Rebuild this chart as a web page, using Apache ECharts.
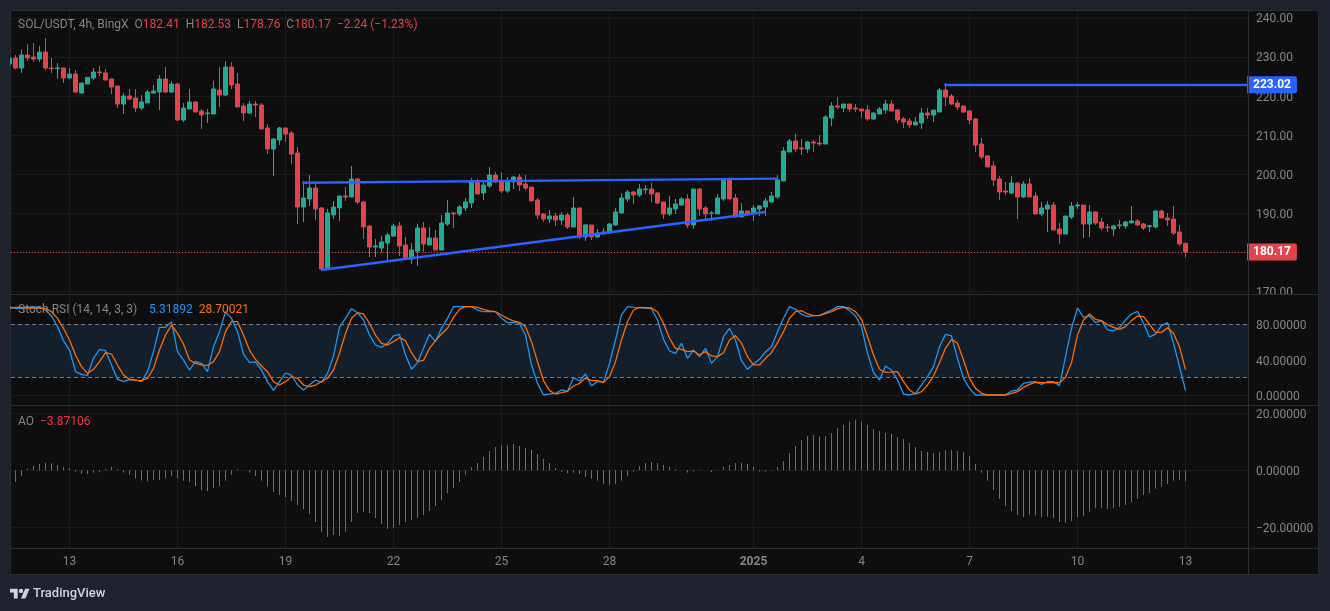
<!DOCTYPE html>
<html>
<head>
<meta charset="utf-8">
<title>SOL/USDT 4h</title>
<script src="https://cdn.jsdelivr.net/npm/echarts@6/dist/echarts.min.js"></script>
<style>
  html, body { margin: 0; padding: 0; background: #1e222d; }
  #chart { width: 1330px; height: 611px; }
</style>
</head>
<body>
<div id="chart"></div>
<script>
// 4h candles, Dec 11 2024 -> Jan 13 2025
const opens = [
  228.32,229.86,227.30,230.63,230.12,229.60,231.39,227.30,227.13,227.30,
  224.74,225.76,220.89,223.20,224.74,226.27,226.02,224.48,222.69,218.08,
  220.13,219.61,217.05,218.33,220.89,221.15,224.48,221.15,223.20,213.98,
  216.80,218.59,216.28,215.60,215.52,221.66,220.38,227.55,223.20,217.56,
  215.77,218.08,217.82,211.93,206.55,208.86,211.93,210.65,205.53,191.70,
  193.75,196.57,191.45,176.08,189.65,191.45,194.52,194.26,198.87,192.98,
  186.83,181.46,181.20,182.48,184.28,186.83,181.97,178.39,180.43,186.32,
  181.97,183.76,180.69,187.35,190.17,189.91,191.45,192.73,198.19,195.29,
  197.08,199.90,198.36,195.80,198.10,199.38,197.59,196.82,193.49,189.91,
  188.63,189.40,188.37,189.65,186.58,191.45,184.02,187.09,184.02,185.04,
  185.04,187.09,190.17,193.75,195.54,194.77,196.14,196.31,195.29,192.98,
  189.91,191.19,192.21,193.75,187.09,196.31,191.45,190.00,189.91,193.75,
  198.62,194.01,189.14,190.68,189.91,191.19,191.70,192.98,194.27,198.36,
  205.79,208.60,206.81,206.56,208.35,208.09,207.84,214.49,217.57,217.05,
  218.08,217.05,216.80,216.54,214.24,215.52,216.54,218.08,216.54,214.24,
  213.73,212.70,213.21,215.77,215.26,216.03,221.66,220.13,218.34,217.57,
  216.29,214.24,207.84,204.76,202.20,198.87,195.80,195.29,197.85,194.27,
  197.59,194.52,189.91,191.19,192.21,186.07,184.79,189.14,191.96,192.21,
  187.35,190.42,187.86,186.58,186.07,186.92,186.84,187.61,188.12,187.35,
  186.67,186.58,190.68,188.89,188.63,185.30,182.41
];
const highs = [
  229.86,230.63,232.08,233.44,233.70,232.93,234.98,229.86,228.57,227.30,
  227.30,226.78,223.45,224.91,227.30,227.81,227.04,224.65,222.69,220.89,
  221.92,221.92,220.38,221.66,222.94,225.50,227.55,223.97,223.45,218.33,
  221.92,218.85,216.80,216.80,223.97,227.55,229.09,228.83,226.02,218.33,
  218.85,218.85,218.33,212.96,209.37,212.19,211.93,211.16,207.06,198.36,
  199.90,197.59,191.70,191.19,193.24,194.52,196.82,202.20,199.13,193.24,
  187.09,183.51,184.28,185.04,187.35,187.86,184.02,182.48,187.35,187.86,
  186.58,185.81,189.65,193.49,190.42,192.21,194.01,199.13,198.87,198.36,
  201.95,200.66,200.66,199.38,199.64,200.15,199.90,196.82,194.01,190.17,
  190.93,190.17,190.42,190.17,194.26,191.45,187.35,187.09,186.07,186.32,
  187.60,191.45,195.29,196.06,195.80,197.59,197.34,197.85,195.54,192.98,
  194.52,193.75,194.26,195.03,196.31,196.57,191.96,190.68,195.03,198.87,
  199.38,195.03,192.73,190.68,192.21,192.21,194.01,195.54,199.90,207.07,
  209.12,210.40,209.12,208.60,208.86,210.14,215.26,218.59,219.87,218.08,
  218.08,218.08,216.80,217.82,216.03,217.31,219.10,219.10,216.80,214.75,
  214.49,214.75,217.05,217.05,216.54,222.18,223.46,220.64,219.10,217.57,
  216.54,214.49,209.37,205.02,203.48,199.64,198.11,199.64,197.85,198.36,
  199.13,195.54,192.98,193.24,192.98,187.61,189.40,192.98,192.98,192.21,
  192.21,190.68,188.89,187.35,187.09,188.37,188.12,191.96,188.63,187.61,
  187.09,190.93,190.93,190.17,191.96,187.09,182.53
];
const lows = [
  228.32,226.96,226.02,229.09,228.83,228.83,226.78,226.02,224.48,223.45,
  224.48,220.89,220.89,223.20,224.22,225.25,224.22,220.64,217.05,215.52,
  219.10,216.03,216.54,218.33,220.64,216.54,220.89,220.89,213.72,213.47,
  216.80,216.03,211.68,213.21,215.52,217.31,220.13,221.92,217.31,213.72,
  215.52,214.75,211.68,205.27,199.64,207.58,208.35,202.71,187.35,187.86,
  191.96,188.37,175.57,175.83,188.63,188.12,193.24,194.26,192.47,183.51,
  178.90,178.90,180.18,178.13,184.02,179.15,178.13,177.11,176.59,180.18,
  181.97,180.69,180.69,186.84,186.32,189.40,190.68,191.45,195.03,193.49,
  196.57,197.85,195.29,195.29,196.31,195.80,196.06,193.24,188.63,187.86,
  187.60,186.84,187.09,186.07,186.58,183.51,183.00,183.25,184.02,184.53,
  185.04,186.84,189.91,192.98,192.47,194.26,195.03,192.98,192.47,188.63,
  189.40,189.91,191.96,186.32,186.07,189.40,188.37,188.12,189.91,193.24,
  193.75,189.14,189.14,189.40,188.12,189.40,189.40,192.98,193.75,198.36,
  205.79,205.79,205.02,205.53,205.79,207.32,207.84,212.45,216.80,216.03,
  216.03,216.03,214.49,213.73,213.98,215.52,215.52,216.29,213.21,211.93,
  211.93,212.70,211.68,214.24,213.47,216.03,217.57,217.82,216.54,215.77,
  212.96,205.79,203.99,201.95,197.08,193.50,194.77,195.03,188.63,194.01,
  194.27,189.91,189.40,185.30,185.81,182.23,184.79,188.63,191.19,183.77,
  184.02,187.09,185.81,185.30,184.28,186.07,186.07,187.61,186.84,185.81,
  185.30,186.33,188.89,186.84,184.53,181.72,178.76
];
const closes = [
  229.86,227.30,230.63,229.86,229.60,231.39,227.30,227.13,227.30,224.74,
  225.76,221.15,223.45,224.91,226.27,226.10,224.22,222.43,218.08,220.13,
  219.36,217.05,218.59,221.15,221.41,224.48,221.15,223.20,213.98,217.05,
  218.59,216.03,215.26,215.77,221.92,220.38,227.55,222.94,217.31,215.77,
  218.08,217.82,211.68,206.55,209.12,211.93,210.39,205.27,191.70,194.01,
  196.57,191.19,175.83,190.17,191.70,194.52,194.26,198.87,192.98,186.58,
  181.46,181.72,182.74,184.53,186.83,181.72,178.39,180.69,186.32,182.23,
  183.76,180.69,187.60,190.17,189.91,191.70,192.98,198.19,195.03,197.34,
  199.90,198.10,195.80,198.36,199.38,197.34,196.57,193.24,189.65,188.63,
  189.40,188.37,189.65,186.58,191.45,184.02,187.09,184.02,185.04,185.30,
  187.35,190.42,194.01,195.54,194.77,196.31,196.31,195.03,192.73,189.91,
  191.45,192.47,193.75,187.09,196.31,191.19,189.91,190.17,194.01,198.62,
  193.75,189.14,190.68,189.91,191.45,191.96,193.24,194.52,198.62,206.04,
  208.60,206.56,206.56,208.35,208.09,207.84,214.75,217.57,217.31,218.08,
  216.80,216.80,216.29,214.24,215.77,216.80,218.08,216.29,213.98,213.47,
  212.70,213.47,215.77,215.26,216.54,221.66,219.87,218.08,217.31,216.03,
  213.98,207.58,204.50,201.95,198.62,195.54,195.54,197.85,194.27,197.59,
  194.27,189.91,191.45,192.21,185.81,184.79,189.40,191.96,192.21,187.35,
  190.42,187.61,186.33,186.41,186.84,187.09,187.86,188.12,187.09,186.33,
  186.92,190.68,188.89,188.37,185.04,182.23,180.17
];

// Stoch RSI
const stochK = [
  100,98.1,98.1,98.9,99.6,99.2,96.2,89.4,77.4,61.5,
  50.9,26.4,23.4,22.3,41.5,51.7,50.2,34,17.7,15.5,
  17.4,17,15.1,26.4,49.1,76.6,76.6,83,49.1,39.6,
  28.3,38.1,35.8,26.4,54.7,71.7,94.3,86.8,71.7,46.4,
  37,37.4,28.3,15.1,5.3,15.1,24.9,22.6,11.3,5.7,
  11.3,17,14.3,24.5,44.2,76.6,86.8,97.7,93.2,84.9,
  67.9,56.6,54,58.5,66.8,68.7,45.3,29.1,36.6,52.8,
  68.7,60.4,75.5,86.8,100,100,100,100,96.2,94.3,
  94.3,94.3,86.8,81.9,82.3,81.1,67.9,34,13.2,0,
  1.1,1.9,5.7,4.2,19.6,15.8,23.8,10.2,15.5,14.3,
  35.8,62.3,90.6,100,99.2,98.9,98.5,97.7,84.9,63,
  49.8,47.2,58.5,41.5,50.9,43.4,52.8,35.8,43.4,66,
  75.5,62.3,38.5,29.1,35.1,40.4,48.7,54.7,71.7,86.8,
  100,97,91.3,88.7,89.8,89.8,93.2,96.2,100,100,
  95.5,89.4,77.4,47.2,25.3,17,32.8,28.3,17,1.1,
  0,1.9,11.3,20.8,32.1,54.7,68.7,66.8,41.5,18.9,
  7.5,0,0,0,0,0,0,4.5,5.7,13.2,
  14.7,15.1,12.1,15.1,15.1,10.6,43.4,75.5,98.5,87.9,
  89.4,81.9,84.2,73.6,72.5,76.2,84.9,91.7,94.7,81.1,
  65.7,68.7,78.5,81.9,58.5,32.1,5.31892
];
const stochD = [
  98.1,99.2,99.2,98.5,98.5,98.5,97.7,94.3,86.8,75.5,
  62.3,45.3,32.1,24.5,29.1,37.7,47.9,46.4,34,22.6,
  17.7,16.6,16.2,18.9,30.2,50.9,67.9,79.2,69.8,57.7,
  39.6,35.8,34,33.6,37.7,49.1,71.7,83,83,67.9,
  50.9,40.4,32.8,26.4,15.1,11.3,15.1,20.8,18.9,11.3,
  9.4,11.3,15.1,18.9,28.3,47.2,69.8,86.8,93.2,91.7,
  81.1,67.9,58.5,56.6,60.4,64.9,61.5,47.9,37.7,39.2,
  52.8,61.5,69.1,75.5,87.9,97,100,100,99.2,97,
  95.1,94.3,90.6,86.8,83.8,82.3,77.4,60.4,37.7,16.2,
  4.9,1.1,2.6,4.2,10.2,13.2,19.2,16.2,16.2,14,
  20.8,37.7,62.3,83,96.2,99.2,98.9,98.5,94,81.1,
  64.2,52.8,51.7,49.1,49.8,45.3,49.1,44.2,43.4,47.9,
  62.3,67.2,58.5,43.4,34,34,41.5,47.9,59.2,71.7,
  86.8,94.3,95.5,91.7,89.8,90.2,92.1,94.3,97.4,99.2,
  98.5,94.3,85.7,66,45.3,29.1,25.7,26,26.4,15.1,
  5.7,1.1,3.8,11.3,21.5,36.6,52.8,63,58.5,39.6,
  18.9,7.5,1.9,0,0,0,0,1.9,3.8,8.7,
  12.1,14.3,14,14,14,14,20,36.6,67.9,84.9,
  91.7,85.7,84.2,79.6,76.6,74.3,77.4,84.2,89.4,88.7,
  80,70.9,70.9,76.2,69.8,54.7,28.70021
];

// Awesome Oscillator
const aoValues = [
  -4.8,-4.1,-2,0.6,1.5,2.2,2.7,2.5,1.9,1.2,
  0.8,-0.5,-1.2,-1.3,-0.9,-0.7,0.5,1.2,0.5,-0.8,
  -1.5,-2.9,-3.6,-3.8,-3.3,-3.4,-2.7,-2,-2.7,-3.7,
  -4.1,-5.5,-6.9,-7.3,-6.2,-5.5,-3.7,-1.6,0.5,-0.1,
  -0.8,-2,-3.7,-5.8,-7.6,-8.7,-9.4,-10.8,-12.2,-13.6,
  -15.3,-18.1,-21.6,-23.4,-22.7,-23,-21.6,-18.1,-15,-14.6,
  -15,-16.7,-18.8,-20.6,-20.2,-19.2,-18.1,-17.4,-16.7,-15.7,
  -14.3,-12.5,-10.4,-8,-6.2,-4.1,-1.6,1.2,2.6,4.7,
  6.8,8.2,9,8.8,9.2,8.5,7.8,7.1,5.7,4,
  2.6,0.8,-0.5,-1,-0.9,-1.3,-2.3,-3,-3.7,-4.8,
  -5.1,-4.8,-3.7,-2,-0.5,1.5,2.6,2.9,2.6,1.9,
  1.2,0.5,0.1,-0.8,-0.5,0.15,0.05,-0.6,0.2,1.2,
  1.9,2.55,2.65,2.2,1.2,-0.4,-0.5,-0.2,1.2,3.3,
  6.1,8.5,10.6,12,12.4,11.9,12,13.1,14.9,15.9,
  17,17.7,17,15.9,14.5,13.8,13.1,12.7,11.7,11,
  9.6,8.2,6.8,6.4,6.1,6.4,7,7.2,6.8,6.4,
  5,2.2,-0.9,-3.7,-6.9,-10.1,-12.5,-14.3,-15.7,-16.4,
  -15.6,-15.8,-16.5,-16.3,-16.7,-18.1,-18.5,-17.8,-16.4,-16,
  -14.6,-13.3,-13.1,-13.6,-13.2,-12.9,-12.2,-11.1,-10.1,-8.7,
  -8,-6.5,-5.8,-4.8,-3.7,-3.4,-3.87106
];

// x is the candle index (candle 0 sits just left of the pane)
const xMin = 0.25;
const xMax = 206.41667;
const xTickValues = [10, 28, 46, 64, 82, 100, 124, 142, 160, 178, 196];
const xTickLabels = ['13', '16', '19', '22', '25', '28', '2025', '4', '7', '10', '13'];

const priceTicks = [170, 180, 190, 200, 210, 220, 230, 240];
const stochTicks = [0, 40, 80];
const aoTicks = [-20, 0, 20];

// drawn lines: [candle index, price]
const topTrend = [[48.8, 197.93], [128, 198.96]];
const bottomTrend = [[51.9, 175.57], [126, 190.42]];
const highLine = [[155.8, 223.02], [xMax, 223.02]];
const lastClose = 180.17;

const UP = '#22ab94';
const DOWN = '#e4434b';
const AO_UP = '#089981';
const AO_DOWN = '#f23645';
const GRID = '#1b1b1b';
const SEP = '#2a2d34';
const PANE = '#0e0e0e';
const PAGE = '#1e222d';
const TEXT = '#858585';
const BLUE = '#2962ff';
const FONT = 'Roboto, sans-serif';

const chart = echarts.init(document.getElementById('chart'), null, { renderer: 'canvas' });

function xAxisFor(gridIndex, showLabel) {
  return {
    type: 'value', gridIndex, min: xMin, max: xMax,
    axisLine: { show: false },
    axisTick: { show: false, customValues: xTickValues },
    splitLine: { show: true, lineStyle: { color: GRID, width: 1 } },
    axisLabel: {
      show: showLabel, customValues: xTickValues, color: TEXT, fontSize: 12, fontFamily: FONT, margin: 8,
      hideOverlap: false, showMinLabel: true, showMaxLabel: true,
      formatter: function (v) {
        const label = xTickLabels[xTickValues.indexOf(v)];
        return label === '2025' ? '{b|2025}' : label;
      },
      rich: { b: { fontWeight: 'bold', color: TEXT, fontSize: 12, fontFamily: FONT } }
    }
  };
}

function yAxisFor(gridIndex, min, max, ticks, digits, nudge) {
  return {
    type: 'value', gridIndex, min, max, position: 'right', scale: true,
    axisLine: { show: false },
    axisTick: { show: false, customValues: ticks },
    splitLine: { show: true, lineStyle: { color: GRID, width: 1 } },
    axisLabel: {
      customValues: ticks, color: TEXT, fontSize: 12, fontFamily: FONT, margin: 8,
      showMinLabel: true, showMaxLabel: true,
      formatter: v => '{t|' + v.toFixed(digits).replace('-', '\u2212') + '}',
      rich: { t: { color: TEXT, fontSize: 12, fontFamily: FONT, padding: [nudge, 0, 0, 0] } }
    }
  };
}

function seg(points, color, label) {
  const a = { coord: points[0], lineStyle: { color, width: 2.4, type: 'solid' }, label: { show: false } };
  const b = { coord: points[1], lineStyle: { color, width: 2.4, type: 'solid' }, label: { show: false } };
  if (label) {
    a.label = b.label = label;
  }
  return [a, b];
}

const tagLabel = (color, text) => ({
  show: true, position: 'end', distance: -1, formatter: text,
  color: '#fff', fontSize: 12, fontWeight: 'bold', fontFamily: FONT,
  backgroundColor: color, padding: [3, 6, 2, 6], borderRadius: [0, 2, 2, 0]
});

const richText = styles => {
  const rich = {};
  Object.keys(styles).forEach(k => {
    rich[k] = { color: styles[k], fontSize: 12, fontWeight: 'normal', fontFamily: FONT };
  });
  return { fontWeight: 'normal', rich };
};

const option = {
  animation: false,
  backgroundColor: 'transparent',
  textStyle: { fontFamily: FONT },
  grid: [
    { left: 11, width: 1237, top: 11, height: 283 },
    { left: 11, width: 1237, top: 295, height: 110 },
    { left: 11, width: 1237, top: 406, height: 142 }
  ],
  xAxis: [xAxisFor(0, false), xAxisFor(1, false), xAxisFor(2, true)],
  yAxis: [
    yAxisFor(0, 169.42, 241.9, priceTicks, 2, 2),
    yAxisFor(1, -11.32, 113.2, stochTicks, 5, 4),
    yAxisFor(2, -27.26, 22.56, aoTicks, 5, 4)
  ],
  title: [
    {
      left: 18, top: 19, padding: 0,
      text: '{g|SOL/USDT, 4h, BingX  O}{r|182.41}{g|  H}{r|182.53}{g|  L}{r|178.76}{g|  C}{r|180.17}{r|  \u22122.24 (\u22121.23%)}',
      textStyle: richText({ g: TEXT, r: '#e8404a' })
    },
    {
      left: 18, top: 304, padding: 0,
      text: '{g|Stoch RSI (14, 14, 3, 3)    }{b|5.31892}{o|  28.70021}',
      textStyle: richText({ g: TEXT, b: '#2196f3', o: '#ff6d00' })
    },
    {
      left: 18, top: 416, padding: 0,
      text: '{g|AO  }{r|\u22123.87106}',
      textStyle: richText({ g: TEXT, r: '#f23645' })
    },
    {
      left: 33, top: 587, padding: 0, text: 'TradingView',
      textStyle: { color: '#d1d4dc', fontSize: 13, fontWeight: 500, fontFamily: FONT }
    }
  ],
  graphic: [
    { type: 'rect', z: -10, shape: { x: 10.5, y: 10.5, width: 1308, height: 564 },
      style: { fill: PANE, stroke: SEP, lineWidth: 1 } },
    { type: 'line', z: 20, shape: { x1: 11, y1: 294.5, x2: 1318, y2: 294.5 }, style: { stroke: SEP, lineWidth: 1 } },
    { type: 'line', z: 20, shape: { x1: 11, y1: 405.5, x2: 1318, y2: 405.5 }, style: { stroke: SEP, lineWidth: 1 } },
    { type: 'line', z: 20, shape: { x1: 11, y1: 548.5, x2: 1318, y2: 548.5 }, style: { stroke: SEP, lineWidth: 1 } },
    { type: 'line', z: 20, shape: { x1: 1248.5, y1: 11, x2: 1248.5, y2: 574 }, style: { stroke: SEP, lineWidth: 1 } },
    // 170.00 is cut by the pane edge in the original
    { type: 'rect', z: 15, shape: { x: 1250, y: 295, width: 67, height: 5 }, style: { fill: PANE } },
    // first candle hangs over the left edge, hide that part
    { type: 'rect', z: 15, shape: { x: 0, y: 11, width: 10, height: 563 }, style: { fill: PAGE } },
    // TradingView mark
    { type: 'polygon', z: 20, x: 10, y: 586.5, scaleX: 0.55, scaleY: 0.55,
      shape: { points: [[0, 4], [14, 4], [14, 22], [7, 22], [7, 11], [0, 11]] }, style: { fill: '#d1d4dc' } },
    { type: 'polygon', z: 20, x: 10, y: 586.5, scaleX: 0.55, scaleY: 0.55,
      shape: { points: [[27.5, 4], [35.5, 4], [28, 22], [20, 22]] }, style: { fill: '#d1d4dc' } },
    { type: 'circle', z: 20, shape: { cx: 21, cy: 590.9, r: 2.2 }, style: { fill: '#d1d4dc' } }
  ],
  series: [
    {
      type: 'candlestick', xAxisIndex: 0, yAxisIndex: 0, barWidth: 4, clip: true,
      data: opens.map((o, i) => [i, o, closes[i], lows[i], highs[i]]),
      itemStyle: { color: UP, color0: DOWN, borderColor: UP, borderColor0: DOWN, borderWidth: 1 },
      markLine: {
        silent: true, symbol: 'none', animation: false,
        data: [
          { yAxis: lastClose, lineStyle: { color: DOWN, width: 1, type: [1, 2] }, label: tagLabel(DOWN, '180.17') },
          seg(topTrend, BLUE),
          seg(bottomTrend, BLUE),
          seg(highLine, BLUE, tagLabel('#2962ff', '223.02'))
        ]
      }
    },
    {
      type: 'line', xAxisIndex: 1, yAxisIndex: 1, symbol: 'none', z: 3,
      data: stochK.map((v, i) => [i, v]),
      lineStyle: { color: '#2196f3', width: 1.3 },
      markArea: { silent: true, itemStyle: { color: '#131f2b' }, data: [[{ yAxis: 20 }, { yAxis: 80 }]] },
      markLine: {
        silent: true, symbol: 'none', animation: false, label: { show: false },
        lineStyle: { color: '#787b86', width: 1, type: [4, 3] },
        data: [{ yAxis: 80 }, { yAxis: 20 }]
      }
    },
    {
      type: 'line', xAxisIndex: 1, yAxisIndex: 1, symbol: 'none', z: 4,
      data: stochD.map((v, i) => [i, v]),
      lineStyle: { color: '#ff6d00', width: 1.3 }
    },
    {
      type: 'bar', xAxisIndex: 2, yAxisIndex: 2, barWidth: 1,
      data: aoValues.map((v, i) => [i, v]),
      itemStyle: {
        color: p => (p.dataIndex === 0 || aoValues[p.dataIndex] >= aoValues[p.dataIndex - 1]) ? AO_UP : AO_DOWN
      }
    }
  ]
};

chart.setOption(option);
</script>
</body>
</html>
